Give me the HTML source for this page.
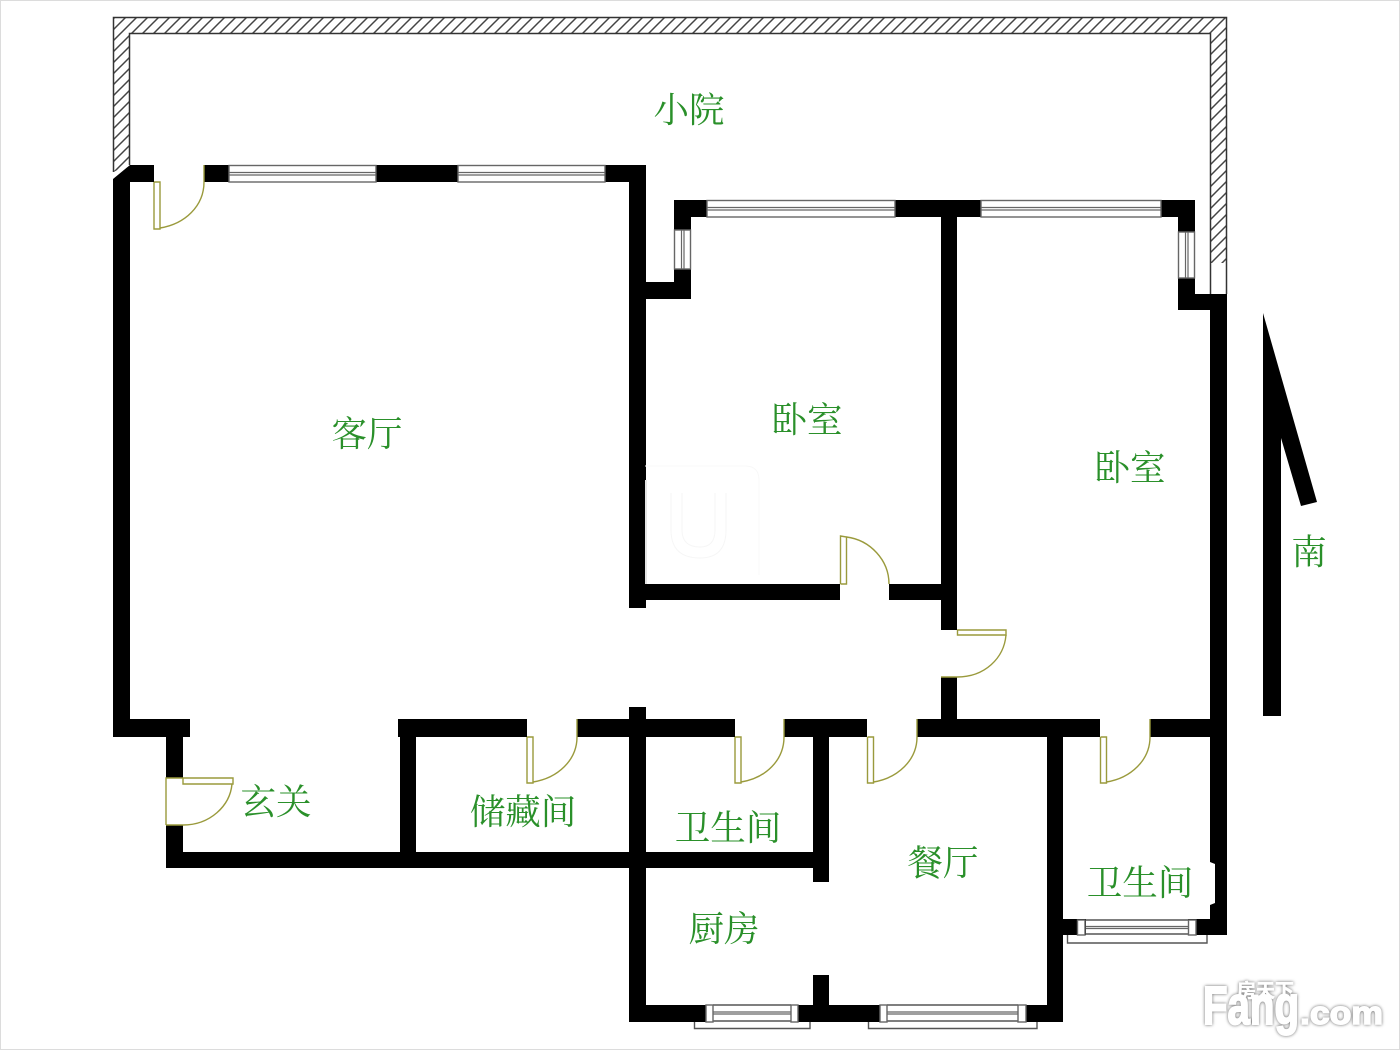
<!DOCTYPE html>
<html lang="zh">
<head>
<meta charset="utf-8">
<title>户型图</title>
<style>
html,body{margin:0;padding:0;background:#fff;}
body{width:1400px;height:1050px;overflow:hidden;}
svg{display:block;}
#plan{filter:blur(0.35px);}
.t{font-family:"Liberation Serif","Noto Serif CJK SC",serif;font-size:35.500px;fill:#2a902a;text-anchor:middle;dominant-baseline:central;}
.d{fill:none;stroke:#9a9a3c;stroke-width:1.400;}
.w{fill:#fff;stroke:#666;stroke-width:1.400;}
.l{stroke:#555;stroke-width:1.400;fill:none;}
.m{stroke:#666;stroke-width:1.200;fill:none;}
</style>
</head>
<body>
<svg width="1400" height="1050" viewBox="0 0 1400 1050" xmlns="http://www.w3.org/2000/svg">
<defs>
<pattern id="h" width="11" height="11" patternUnits="userSpaceOnUse">
<path d="M-1 12 L12 -1 M-1 1 L1 -1 M10 12 L12 10" stroke="#444" stroke-width="1.500"/>
</pattern>
</defs>
<rect width="1400" height="1050" fill="#fff"/>
<rect x="0.500" y="0.500" width="1399" height="1049" fill="none" stroke="#dcdcdc"/>

<g id="plan">
<!-- courtyard hatch wall -->
<path d="M113.500 172 V17.500 H1226.500 V263 H1210.500 V33.500 H129.500 V164 Z" fill="url(#h)" stroke="none"/>
<path d="M113.500 172 V17.500 H1226.500 V294 M1210.500 294 V33.500 H129.500 V165" fill="none" stroke="#333" stroke-width="1.500"/>

<!-- walls -->
<g fill="#000">
<path d="M113 179 L130 165 H154 V182 H130 V719 H190 V737 H183 V778 H166 V737 H113 Z"/>
<rect x="204" y="165" width="25" height="17"/>
<rect x="376" y="165" width="82" height="17"/>
<rect x="605" y="165" width="41" height="17"/>
<rect x="629" y="165" width="17" height="443"/>
<rect x="629" y="282" width="62" height="17"/>
<rect x="674" y="200" width="17" height="30"/>
<rect x="674" y="269" width="17" height="30"/>
<rect x="674" y="200" width="33" height="17"/>
<rect x="895" y="200" width="86" height="17"/>
<rect x="1161" y="200" width="34" height="17"/>
<rect x="1178" y="200" width="17" height="32"/>
<rect x="1178" y="278" width="17" height="32"/>
<rect x="1178" y="294" width="49" height="16"/>
<rect x="941" y="200" width="16" height="430"/>
<rect x="941" y="677" width="16" height="60"/>
<rect x="646" y="584" width="194" height="16"/>
<rect x="889" y="584" width="52" height="16"/>
<rect x="629" y="707" width="17" height="315"/>
<rect x="398" y="719" width="129" height="18"/>
<rect x="577" y="719" width="158" height="18"/>
<rect x="784" y="719" width="83" height="18"/>
<rect x="917" y="719" width="183" height="18"/>
<rect x="1150" y="719" width="77" height="18"/>
<rect x="166" y="825" width="17" height="43"/>
<rect x="166" y="852" width="663" height="16"/>
<rect x="400" y="737" width="16" height="131"/>
<rect x="813" y="737" width="16" height="145"/>
<rect x="813" y="975" width="16" height="47"/>
<rect x="1047" y="737" width="16" height="285"/>
<rect x="629" y="1005" width="434" height="17"/>
<path d="M1210 294 H1227 V935 H1063 V919 H1210 V905 L1215 903 V864 L1210 862 Z"/>
</g>

<!-- top windows -->
<g>
<rect class="w" x="229" y="165.500" width="147" height="16.500"/>
<path class="m" d="M229 172.500 H376 M229 175 H376"/>
<rect class="w" x="458" y="165.500" width="147" height="16.500"/>
<path class="m" d="M458 172.500 H605 M458 175 H605"/>
<rect class="w" x="707" y="200.500" width="188" height="16.500"/>
<path class="m" d="M707 207.500 H895 M707 210 H895"/>
<rect class="w" x="981" y="200.500" width="180" height="16.500"/>
<path class="m" d="M981 207.500 H1161 M981 210 H1161"/>
<rect class="w" x="674.500" y="230" width="16" height="39"/>
<path class="m" d="M681.500 230 V269 M684 230 V269"/>
<rect class="w" x="1178.500" y="232" width="16" height="46"/>
<path class="m" d="M1185.500 232 V278 M1188 232 V278"/>
</g>

<!-- bottom windows -->
<g>
<path class="l" d="M694.500 1022 V1028.500 H810 V1022"/>
<rect fill="#fff" x="713" y="1004" width="78" height="18"/>
<path class="l" d="M713 1005 H791 M713 1021 H791"/>
<path class="m" d="M713 1012 H791 M713 1014 H791"/>
<rect class="w" x="706" y="1005" width="7" height="17"/>
<rect class="w" x="791" y="1005" width="7" height="17"/>

<path class="l" d="M868.500 1022 V1028.500 H1037 V1022"/>
<rect fill="#fff" x="887" y="1004" width="131" height="18"/>
<path class="l" d="M887 1005 H1018 M887 1021 H1018"/>
<path class="m" d="M887 1012 H1018 M887 1014 H1018"/>
<rect class="w" x="880" y="1005" width="7" height="17"/>
<rect class="w" x="1018" y="1005" width="8" height="17"/>

<path class="l" d="M1067.500 935 V943 H1207 V935"/>
<rect fill="#fff" x="1086" y="919" width="102" height="16"/>
<path class="l" d="M1086 920 H1188 M1086 934 H1188"/>
<path class="m" d="M1086 926.500 H1188 M1086 928.500 H1188"/>
<rect class="w" x="1077.500" y="920" width="7.500" height="15"/>
<rect class="w" x="1188.500" y="920" width="7.500" height="15"/>
</g>

<!-- doors -->
<g class="d">
<path d="M154 182 V229 H160 V182 H154"/>
<path d="M160 228 C185 224 204 206 204 182 V165"/>

<path d="M840.500 584 V536 L846.500 537 V584 H840.500"/>
<path d="M846.500 537 C870 540 889 560 889 584"/>

<path d="M957 630 H1006 V635 H957.500 V630"/>
<path d="M1006 635 C1004 658 985 677 957 677 H941"/>

<path d="M166 825 V778 H233 V784 H183 V778"/>
<path d="M232 784 C230 806 210 825 183 825 H166"/>

<path d="M527 737 V783 H533 V737 H527"/>
<path d="M533 782 C558 778 577 760 577 737 V719"/>
<path d="M735 737 V783 H741 V737 H735"/>
<path d="M741 782 C766 778 784 760 784 737 V719"/>
<path d="M867.500 737 V783 H873.500 V737 H867.500"/>
<path d="M873.500 782 C898 778 917 760 917 737 V719"/>
<path d="M1100.500 737 V783 H1106.500 V737 H1100.500"/>
<path d="M1106.500 782 C1131 778 1150 760 1150 737 V719"/>
</g>

<!-- north arrow -->
<path d="M1263 716 V313 L1317 502 L1301 506 L1281 438 V716 Z" fill="#000"/>

<!-- faint U watermark -->
<g fill="none">
<path d="M645 466 H745 Q759 466 759 480 V575" stroke="#f8f8f8" stroke-width="1"/>
<path d="M646 480 V584" stroke="#e4e4e4" stroke-width="2"/>
<path d="M671 493 V530 Q671 558 700 558 Q726 558 726 530 V493 M682 493 V530 Q682 547 700 547 Q715 547 715 530 V493" stroke="#f6f6f6" stroke-width="1"/>
</g>

<!-- labels -->
<text class="t" x="689" y="110">小院</text>
<text class="t" x="367" y="434">客厅</text>
<text class="t" x="807" y="420">卧室</text>
<text class="t" x="1130" y="468">卧室</text>
<text class="t" x="1309" y="552">南</text>
<text class="t" x="276" y="802">玄关</text>
<text class="t" x="523" y="812">储藏间</text>
<text class="t" x="728" y="828">卫生间</text>
<text class="t" x="943" y="863">餐厅</text>
<text class="t" x="1140" y="883">卫生间</text>
<text class="t" x="724" y="929">厨房</text>
</g>

<!-- logo watermark -->
<g style="filter:drop-shadow(0 0 1.500px #666)" fill="#fff" stroke="#fff" font-family="'Liberation Sans',sans-serif" font-weight="700">
<text x="1203" y="1024" font-size="54" stroke-width="2" textLength="96" lengthAdjust="spacingAndGlyphs">Fang</text>
<text x="1300" y="1024" font-size="32" stroke-width="1.500" textLength="83" lengthAdjust="spacingAndGlyphs">.com</text>
<text x="1237" y="997" font-size="19" stroke-width="0.500" font-family="'Noto Sans CJK SC',sans-serif">房天下</text>
</g>
</svg>
</body>
</html>
